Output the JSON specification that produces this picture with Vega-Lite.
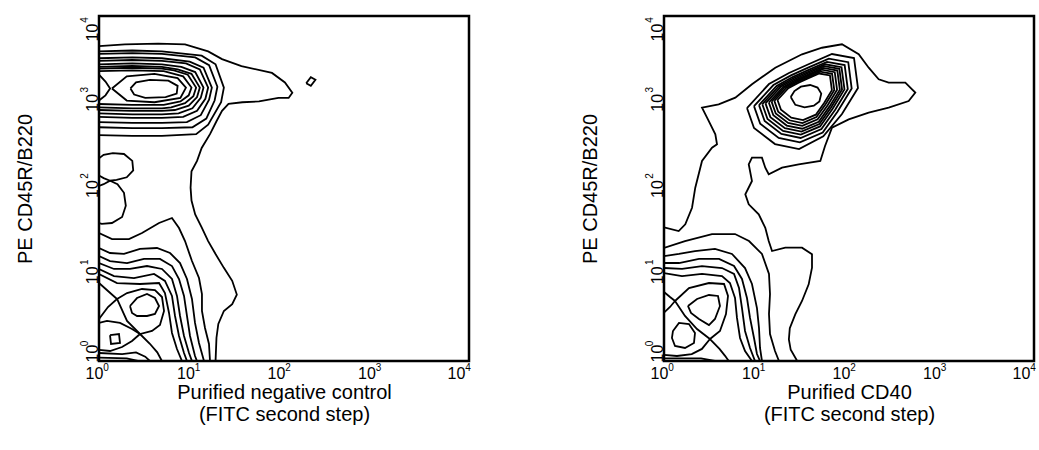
{
"$schema": "https://vega.github.io/schema/vega-lite/v6.json",
"background": "white",
"padding": {"left": 13, "top": 14, "right": 5, "bottom": 5},
"config": {
"font": "Liberation Sans",
"view": {"stroke": "black", "strokeWidth": 2.5},
"axis": {"grid": false, "domain": false, "ticks": false, "labelFont": "Liberation Sans", "labelColor": "black", "titleFont": "Liberation Sans", "titleFontSize": 20, "titleFontWeight": "normal", "titleColor": "black"},
"concat": {"spacing": 106}
},
"datasets": {
"L": [
{"c":"a","x":0,"y":3.65},{"c":"a","x":0.28,"y":3.67},{"c":"a","x":0.64,"y":3.68},{"c":"a","x":0.93,"y":3.67},{"c":"a","x":1.18,"y":3.59},{"c":"a","x":1.33,"y":3.5},{"c":"a","x":1.54,"y":3.42},{"c":"a","x":1.87,"y":3.34},{"c":"a","x":2.01,"y":3.23},{"c":"a","x":2.09,"y":3.11},{"c":"a","x":2.05,"y":3.05},{"c":"a","x":1.94,"y":3.05},{"c":"a","x":1.73,"y":3.01},{"c":"a","x":1.55,"y":3.0},{"c":"a","x":1.4,"y":2.98},{"c":"a","x":1.33,"y":2.9},{"c":"a","x":1.27,"y":2.78},{"c":"a","x":1.2,"y":2.63},{"c":"a","x":1.11,"y":2.47},{"c":"a","x":1.06,"y":2.32},{"c":"a","x":1.0,"y":2.2},{"c":"a","x":0.99,"y":2.01},{"c":"a","x":1.0,"y":1.86},{"c":"a","x":1.04,"y":1.7},{"c":"a","x":1.11,"y":1.55},{"c":"a","x":1.18,"y":1.39},{"c":"a","x":1.26,"y":1.24},{"c":"a","x":1.35,"y":1.08},{"c":"a","x":1.44,"y":0.93},{"c":"a","x":1.49,"y":0.77},{"c":"a","x":1.44,"y":0.66},{"c":"a","x":1.35,"y":0.58},{"c":"a","x":1.29,"y":0.43},{"c":"a","x":1.27,"y":0.27},{"c":"a","x":1.26,"y":0},
{"c":"b","x":2.24,"y":3.22},{"c":"b","x":2.29,"y":3.29},{"c":"b","x":2.34,"y":3.26},{"c":"b","x":2.29,"y":3.19},{"c":"b","x":2.24,"y":3.22},
{"c":"c0","x":0,"y":3.59},{"c":"c0","x":0.36,"y":3.6},{"c":"c0","x":0.68,"y":3.59},{"c":"c0","x":1.11,"y":3.54},{"c":"c0","x":1.26,"y":3.44},{"c":"c0","x":1.35,"y":3.17},{"c":"c0","x":1.32,"y":3.0},{"c":"c0","x":1.18,"y":2.74},{"c":"c0","x":1.05,"y":2.63},{"c":"c0","x":0.68,"y":2.61},{"c":"c0","x":0.36,"y":2.61},{"c":"c0","x":0,"y":2.62},
{"c":"c1","x":0,"y":3.56},{"c":"c1","x":0.36,"y":3.57},{"c":"c1","x":0.68,"y":3.56},{"c":"c1","x":1.04,"y":3.52},{"c":"c1","x":1.19,"y":3.43},{"c":"c1","x":1.28,"y":3.18},{"c":"c1","x":1.25,"y":3.02},{"c":"c1","x":1.16,"y":2.81},{"c":"c1","x":1.01,"y":2.71},{"c":"c1","x":0.68,"y":2.7},{"c":"c1","x":0.36,"y":2.7},{"c":"c1","x":0,"y":2.71},
{"c":"c2","x":0,"y":3.51},{"c":"c2","x":0.36,"y":3.52},{"c":"c2","x":0.68,"y":3.51},{"c":"c2","x":0.98,"y":3.47},{"c":"c2","x":1.13,"y":3.4},{"c":"c2","x":1.22,"y":3.17},{"c":"c2","x":1.19,"y":3.03},{"c":"c2","x":1.1,"y":2.85},{"c":"c2","x":0.95,"y":2.77},{"c":"c2","x":0.68,"y":2.76},{"c":"c2","x":0.36,"y":2.76},{"c":"c2","x":0,"y":2.77},
{"c":"c3","x":0,"y":3.48},{"c":"c3","x":0.36,"y":3.49},{"c":"c3","x":0.68,"y":3.48},{"c":"c3","x":0.94,"y":3.45},{"c":"c3","x":1.09,"y":3.38},{"c":"c3","x":1.18,"y":3.17},{"c":"c3","x":1.15,"y":3.04},{"c":"c3","x":1.06,"y":2.9},{"c":"c3","x":0.91,"y":2.83},{"c":"c3","x":0.68,"y":2.82},{"c":"c3","x":0.36,"y":2.82},{"c":"c3","x":0,"y":2.83},
{"c":"c4","x":0,"y":3.44},{"c":"c4","x":0.36,"y":3.45},{"c":"c4","x":0.68,"y":3.44},{"c":"c4","x":0.89,"y":3.41},{"c":"c4","x":1.04,"y":3.35},{"c":"c4","x":1.13,"y":3.17},{"c":"c4","x":1.1,"y":3.05},{"c":"c4","x":1.01,"y":2.93},{"c":"c4","x":0.86,"y":2.87},{"c":"c4","x":0.68,"y":2.86},{"c":"c4","x":0.36,"y":2.86},{"c":"c4","x":0,"y":2.87},
{"c":"c5","x":0,"y":3.41},{"c":"c5","x":0.36,"y":3.42},{"c":"c5","x":0.68,"y":3.41},{"c":"c5","x":0.85,"y":3.38},{"c":"c5","x":1.0,"y":3.33},{"c":"c5","x":1.09,"y":3.17},{"c":"c5","x":1.06,"y":3.06},{"c":"c5","x":0.97,"y":2.96},{"c":"c5","x":0.82,"y":2.91},{"c":"c5","x":0.68,"y":2.9},{"c":"c5","x":0.36,"y":2.9},{"c":"c5","x":0,"y":2.91},
{"c":"c6","x":0,"y":3.39},{"c":"c6","x":0.36,"y":3.4},{"c":"c6","x":0.68,"y":3.39},{"c":"c6","x":0.81,"y":3.37},{"c":"c6","x":0.96,"y":3.32},{"c":"c6","x":1.05,"y":3.17},{"c":"c6","x":1.02,"y":3.07},{"c":"c6","x":0.93,"y":2.99},{"c":"c6","x":0.78,"y":2.94},{"c":"c6","x":0.68,"y":2.93},{"c":"c6","x":0.36,"y":2.93},{"c":"c6","x":0,"y":2.94},
{"c":"c7","x":0,"y":3.36},{"c":"c7","x":0.36,"y":3.37},{"c":"c7","x":0.7,"y":3.36},{"c":"c7","x":0.91,"y":3.3},{"c":"c7","x":1.0,"y":3.17},{"c":"c7","x":0.97,"y":3.08},{"c":"c7","x":0.88,"y":3.01},{"c":"c7","x":0.7,"y":2.97},{"c":"c7","x":0.36,"y":2.97},{"c":"c7","x":0,"y":2.98},
{"c":"c8","x":0.14,"y":3.16},{"c":"c8","x":0.3,"y":3.3},{"c":"c8","x":0.6,"y":3.33},{"c":"c8","x":0.85,"y":3.28},{"c":"c8","x":0.94,"y":3.17},{"c":"c8","x":0.88,"y":3.05},{"c":"c8","x":0.6,"y":3.0},{"c":"c8","x":0.3,"y":3.02},{"c":"c8","x":0.14,"y":3.16},
{"c":"c9","x":0.34,"y":3.16},{"c":"c9","x":0.4,"y":3.23},{"c":"c9","x":0.55,"y":3.26},{"c":"c9","x":0.75,"y":3.25},{"c":"c9","x":0.85,"y":3.19},{"c":"c9","x":0.84,"y":3.1},{"c":"c9","x":0.72,"y":3.06},{"c":"c9","x":0.5,"y":3.05},{"c":"c9","x":0.38,"y":3.09},{"c":"c9","x":0.34,"y":3.16},
{"c":"c10","x":0,"y":3.32},{"c":"c10","x":0.07,"y":3.24},{"c":"c10","x":0.12,"y":3.16},{"c":"c10","x":0.07,"y":3.08},{"c":"c10","x":0,"y":3.02},
{"c":"u1","x":0,"y":2.35},{"c":"u1","x":0.05,"y":2.39},{"c":"u1","x":0.15,"y":2.41},{"c":"u1","x":0.27,"y":2.4},{"c":"u1","x":0.36,"y":2.32},{"c":"u1","x":0.37,"y":2.21},{"c":"u1","x":0.3,"y":2.13},{"c":"u1","x":0.19,"y":2.1},{"c":"u1","x":0.12,"y":2.09},{"c":"u1","x":0.05,"y":2.05},{"c":"u1","x":0,"y":2.03},
{"c":"u2","x":0,"y":2.15},{"c":"u2","x":0.05,"y":2.12},{"c":"u2","x":0.12,"y":2.09},{"c":"u2","x":0.2,"y":2.05},{"c":"u2","x":0.27,"y":1.95},{"c":"u2","x":0.29,"y":1.8},{"c":"u2","x":0.25,"y":1.67},{"c":"u2","x":0.14,"y":1.6},{"c":"u2","x":0.03,"y":1.59},{"c":"u2","x":0,"y":1.6},
{"c":"m","x":0,"y":1.484},{"c":"m","x":0.141,"y":1.414},{"c":"m","x":0.324,"y":1.414},{"c":"m","x":0.465,"y":1.484},{"c":"m","x":0.649,"y":1.6},{"c":"m","x":0.789,"y":1.658},{"c":"m","x":0.865,"y":1.542},{"c":"m","x":0.93,"y":1.391},{"c":"m","x":1.005,"y":1.159},{"c":"m","x":1.081,"y":0.962},{"c":"m","x":1.113,"y":0.777},{"c":"m","x":1.113,"y":0.58},{"c":"m","x":1.146,"y":0.383},{"c":"m","x":1.189,"y":0.197},{"c":"m","x":1.2,"y":0},
{"c":"A","x":0,"y":1.31},{"c":"A","x":0.119,"y":1.252},{"c":"A","x":0.27,"y":1.241},{"c":"A","x":0.443,"y":1.299},{"c":"A","x":0.627,"y":1.31},{"c":"A","x":0.768,"y":1.252},{"c":"A","x":0.876,"y":1.136},{"c":"A","x":0.951,"y":0.951},{"c":"A","x":1.005,"y":0.719},{"c":"A","x":1.038,"y":0.441},{"c":"A","x":1.081,"y":0.209},{"c":"A","x":1.135,"y":0},
{"c":"B","x":0,"y":1.217},{"c":"B","x":0.119,"y":1.159},{"c":"B","x":0.303,"y":1.136},{"c":"B","x":0.486,"y":1.183},{"c":"B","x":0.659,"y":1.183},{"c":"B","x":0.789,"y":1.101},{"c":"B","x":0.865,"y":0.951},{"c":"B","x":0.919,"y":0.754},{"c":"B","x":0.951,"y":0.522},{"c":"B","x":0.984,"y":0.29},{"c":"B","x":1.038,"y":0.058},{"c":"B","x":1.059,"y":0},
{"c":"C","x":0,"y":1.136},{"c":"C","x":0.162,"y":1.067},{"c":"C","x":0.335,"y":1.067},{"c":"C","x":0.519,"y":1.101},{"c":"C","x":0.681,"y":1.067},{"c":"C","x":0.789,"y":0.951},{"c":"C","x":0.843,"y":0.754},{"c":"C","x":0.876,"y":0.522},{"c":"C","x":0.919,"y":0.29},{"c":"C","x":0.973,"y":0.093},{"c":"C","x":1.005,"y":0},
{"c":"D","x":0,"y":1.067},{"c":"D","x":0.162,"y":0.985},{"c":"D","x":0.378,"y":0.962},{"c":"D","x":0.595,"y":1.009},{"c":"D","x":0.713,"y":0.928},{"c":"D","x":0.789,"y":0.754},{"c":"D","x":0.822,"y":0.522},{"c":"D","x":0.865,"y":0.29},{"c":"D","x":0.919,"y":0.093},{"c":"D","x":0.951,"y":0},
{"c":"E","x":0,"y":1.009},{"c":"E","x":0.195,"y":0.904},{"c":"E","x":0.443,"y":0.893},{"c":"E","x":0.649,"y":0.904},{"c":"E","x":0.713,"y":0.788},{"c":"E","x":0.757,"y":0.557},{"c":"E","x":0.789,"y":0.325},{"c":"E","x":0.843,"y":0.139},{"c":"E","x":0.897,"y":0},
{"c":"Fb","x":0.195,"y":0.719},{"c":"Fb","x":0.303,"y":0.788},{"c":"Fb","x":0.465,"y":0.835},{"c":"Fb","x":0.605,"y":0.823},{"c":"Fb","x":0.681,"y":0.742},{"c":"Fb","x":0.703,"y":0.58},{"c":"Fb","x":0.659,"y":0.417},{"c":"Fb","x":0.573,"y":0.348},{"c":"Fb","x":0.443,"y":0.313},{"c":"Fb","x":0.303,"y":0.464},{"c":"Fb","x":0.195,"y":0.719},
{"c":"In","x":0.335,"y":0.638},{"c":"In","x":0.411,"y":0.73},{"c":"In","x":0.519,"y":0.777},{"c":"In","x":0.605,"y":0.73},{"c":"In","x":0.649,"y":0.638},{"c":"In","x":0.605,"y":0.545},{"c":"In","x":0.519,"y":0.522},{"c":"In","x":0.411,"y":0.522},{"c":"In","x":0.357,"y":0.557},{"c":"In","x":0.335,"y":0.638},
{"c":"G","x":0,"y":0.904},{"c":"G","x":0.097,"y":0.812},{"c":"G","x":0.195,"y":0.719},{"c":"G","x":0.097,"y":0.626},{"c":"G","x":0,"y":0.487},
{"c":"Sq","x":0.119,"y":0.301},{"c":"Sq","x":0.216,"y":0.313},{"c":"Sq","x":0.227,"y":0.209},{"c":"Sq","x":0.13,"y":0.197},{"c":"Sq","x":0.119,"y":0.301},
{"c":"Ls","x":0,"y":0.441},{"c":"Ls","x":0.086,"y":0.464},{"c":"Ls","x":0.227,"y":0.441},{"c":"Ls","x":0.357,"y":0.371},{"c":"Ls","x":0.443,"y":0.313},{"c":"Ls","x":0.357,"y":0.232},{"c":"Ls","x":0.249,"y":0.162},{"c":"Ls","x":0.119,"y":0.116},{"c":"Ls","x":0,"y":0.128},
{"c":"X2","x":0.443,"y":0.313},{"c":"X2","x":0.55,"y":0.2},{"c":"X2","x":0.63,"y":0.1},{"c":"X2","x":0.68,"y":0},
{"c":"Bt1","x":0,"y":0.093},{"c":"Bt1","x":0.25,"y":0.08},{"c":"Bt1","x":0.4,"y":0.1},{"c":"Bt1","x":0.5,"y":0.05},{"c":"Bt1","x":0.55,"y":0},
{"c":"Bt2","x":0,"y":0.04},{"c":"Bt2","x":0.3,"y":0.03},{"c":"Bt2","x":0.42,"y":0}
],
"R": [
{"c":"a","x":0,"y":1.55},{"c":"a","x":0.159,"y":1.507},{"c":"a","x":0.23,"y":1.585},{"c":"a","x":0.303,"y":1.777},{"c":"a","x":0.338,"y":2.009},{"c":"a","x":0.411,"y":2.319},{"c":"a","x":0.519,"y":2.473},{"c":"a","x":0.573,"y":2.512},{"c":"a","x":0.555,"y":2.628},{"c":"a","x":0.483,"y":2.783},{"c":"a","x":0.411,"y":2.937},{"c":"a","x":0.591,"y":2.976},{"c":"a","x":0.771,"y":3.053},{"c":"a","x":0.951,"y":3.208},{"c":"a","x":1.203,"y":3.401},{"c":"a","x":1.492,"y":3.556},{"c":"a","x":1.708,"y":3.632},{"c":"a","x":1.924,"y":3.672},{"c":"a","x":2.105,"y":3.556},{"c":"a","x":2.213,"y":3.401},{"c":"a","x":2.321,"y":3.266},{"c":"a","x":2.429,"y":3.227},{"c":"a","x":2.609,"y":3.227},{"c":"a","x":2.717,"y":3.111},{"c":"a","x":2.645,"y":3.014},{"c":"a","x":2.429,"y":2.937},{"c":"a","x":2.213,"y":2.879},{"c":"a","x":1.997,"y":2.802},{"c":"a","x":1.816,"y":2.705},{"c":"a","x":1.74,"y":2.49},{"c":"a","x":1.69,"y":2.32},{"c":"a","x":1.456,"y":2.281},{"c":"a","x":1.276,"y":2.241},{"c":"a","x":1.132,"y":2.165},{"c":"a","x":1.095,"y":2.241},{"c":"a","x":1.059,"y":2.357},{"c":"a","x":0.951,"y":2.357},{"c":"a","x":0.916,"y":2.281},{"c":"a","x":0.951,"y":2.087},{"c":"a","x":0.879,"y":1.933},{"c":"a","x":0.916,"y":1.817},{"c":"a","x":1.024,"y":1.701},{"c":"a","x":1.095,"y":1.545},{"c":"a","x":1.132,"y":1.391},{"c":"a","x":1.168,"y":1.275},{"c":"a","x":1.311,"y":1.314},{"c":"a","x":1.492,"y":1.314},{"c":"a","x":1.6,"y":1.237},{"c":"a","x":1.6,"y":1.082},{"c":"a","x":1.564,"y":0.889},{"c":"a","x":1.492,"y":0.696},{"c":"a","x":1.419,"y":0.541},{"c":"a","x":1.36,"y":0.38},{"c":"a","x":1.35,"y":0.25},{"c":"a","x":1.37,"y":0.13},{"c":"a","x":1.44,"y":0},
{"c":"r1","x":0.897,"y":2.933},{"c":"r1","x":1.135,"y":3.211},{"c":"r1","x":1.351,"y":3.339},{"c":"r1","x":1.568,"y":3.443},{"c":"r1","x":1.816,"y":3.559},{"c":"r1","x":2.054,"y":3.513},{"c":"r1","x":2.097,"y":3.165},{"c":"r1","x":1.924,"y":2.863},{"c":"r1","x":1.722,"y":2.604},{"c":"r1","x":1.46,"y":2.457},{"c":"r1","x":1.2,"y":2.515},{"c":"r1","x":0.973,"y":2.701},{"c":"r1","x":0.897,"y":2.933},
{"c":"r2","x":0.973,"y":2.955},{"c":"r2","x":1.183,"y":3.199},{"c":"r2","x":1.373,"y":3.312},{"c":"r2","x":1.564,"y":3.404},{"c":"r2","x":1.782,"y":3.506},{"c":"r2","x":1.992,"y":3.465},{"c":"r2","x":2.029,"y":3.159},{"c":"r2","x":1.877,"y":2.893},{"c":"r2","x":1.716,"y":2.648},{"c":"r2","x":1.469,"y":2.536},{"c":"r2","x":1.24,"y":2.587},{"c":"r2","x":1.04,"y":2.751},{"c":"r2","x":0.973,"y":2.955},
{"c":"r3","x":1.027,"y":2.967},{"c":"r3","x":1.217,"y":3.19},{"c":"r3","x":1.39,"y":3.292},{"c":"r3","x":1.564,"y":3.375},{"c":"r3","x":1.762,"y":3.468},{"c":"r3","x":1.953,"y":3.431},{"c":"r3","x":1.987,"y":3.153},{"c":"r3","x":1.849,"y":2.911},{"c":"r3","x":1.702,"y":2.689},{"c":"r3","x":1.477,"y":2.586},{"c":"r3","x":1.269,"y":2.633},{"c":"r3","x":1.088,"y":2.782},{"c":"r3","x":1.027,"y":2.967},
{"c":"r4","x":1.063,"y":2.977},{"c":"r4","x":1.239,"y":3.183},{"c":"r4","x":1.399,"y":3.278},{"c":"r4","x":1.559,"y":3.354},{"c":"r4","x":1.743,"y":3.44},{"c":"r4","x":1.919,"y":3.406},{"c":"r4","x":1.951,"y":3.149},{"c":"r4","x":1.823,"y":2.925},{"c":"r4","x":1.687,"y":2.72},{"c":"r4","x":1.479,"y":2.625},{"c":"r4","x":1.287,"y":2.668},{"c":"r4","x":1.119,"y":2.805},{"c":"r4","x":1.063,"y":2.977},
{"c":"r5","x":1.097,"y":2.987},{"c":"r5","x":1.262,"y":3.179},{"c":"r5","x":1.411,"y":3.267},{"c":"r5","x":1.56,"y":3.339},{"c":"r5","x":1.732,"y":3.419},{"c":"r5","x":1.896,"y":3.387},{"c":"r5","x":1.925,"y":3.147},{"c":"r5","x":1.806,"y":2.939},{"c":"r5","x":1.68,"y":2.747},{"c":"r5","x":1.486,"y":2.659},{"c":"r5","x":1.307,"y":2.699},{"c":"r5","x":1.15,"y":2.827},{"c":"r5","x":1.097,"y":2.987},
{"c":"r6","x":1.133,"y":2.997},{"c":"r6","x":1.286,"y":3.175},{"c":"r6","x":1.424,"y":3.257},{"c":"r6","x":1.563,"y":3.324},{"c":"r6","x":1.721,"y":3.398},{"c":"r6","x":1.874,"y":3.368},{"c":"r6","x":1.901,"y":3.146},{"c":"r6","x":1.79,"y":2.952},{"c":"r6","x":1.673,"y":2.774},{"c":"r6","x":1.494,"y":2.693},{"c":"r6","x":1.327,"y":2.73},{"c":"r6","x":1.182,"y":2.849},{"c":"r6","x":1.133,"y":2.997},
{"c":"r7","x":1.163,"y":3.007},{"c":"r7","x":1.303,"y":3.171},{"c":"r7","x":1.431,"y":3.247},{"c":"r7","x":1.559,"y":3.308},{"c":"r7","x":1.705,"y":3.377},{"c":"r7","x":1.846,"y":3.349},{"c":"r7","x":1.871,"y":3.144},{"c":"r7","x":1.769,"y":2.966},{"c":"r7","x":1.661,"y":2.802},{"c":"r7","x":1.495,"y":2.726},{"c":"r7","x":1.342,"y":2.761},{"c":"r7","x":1.208,"y":2.87},{"c":"r7","x":1.163,"y":3.007},
{"c":"r8","x":1.193,"y":3.016},{"c":"r8","x":1.321,"y":3.166},{"c":"r8","x":1.438,"y":3.236},{"c":"r8","x":1.555,"y":3.292},{"c":"r8","x":1.689,"y":3.354},{"c":"r8","x":1.817,"y":3.329},{"c":"r8","x":1.841,"y":3.142},{"c":"r8","x":1.747,"y":2.978},{"c":"r8","x":1.648,"y":2.828},{"c":"r8","x":1.497,"y":2.759},{"c":"r8","x":1.356,"y":2.791},{"c":"r8","x":1.234,"y":2.891},{"c":"r8","x":1.193,"y":3.016},
{"c":"r9","x":1.227,"y":3.026},{"c":"r9","x":1.344,"y":3.163},{"c":"r9","x":1.45,"y":3.225},{"c":"r9","x":1.556,"y":3.276},{"c":"r9","x":1.678,"y":3.333},{"c":"r9","x":1.794,"y":3.311},{"c":"r9","x":1.815,"y":3.14},{"c":"r9","x":1.731,"y":2.992},{"c":"r9","x":1.641,"y":2.856},{"c":"r9","x":1.503,"y":2.793},{"c":"r9","x":1.376,"y":2.821},{"c":"r9","x":1.265,"y":2.913},{"c":"r9","x":1.227,"y":3.026},
{"c":"r0","x":1.37,"y":3.06},{"c":"r0","x":1.41,"y":3.13},{"c":"r0","x":1.48,"y":3.18},{"c":"r0","x":1.58,"y":3.2},{"c":"r0","x":1.66,"y":3.17},{"c":"r0","x":1.7,"y":3.1},{"c":"r0","x":1.68,"y":3.01},{"c":"r0","x":1.62,"y":2.96},{"c":"r0","x":1.52,"y":2.94},{"c":"r0","x":1.42,"y":2.97},{"c":"r0","x":1.37,"y":3.06},
{"c":"m","x":0,"y":1.31},{"c":"m","x":0.227,"y":1.391},{"c":"m","x":0.519,"y":1.472},{"c":"m","x":0.768,"y":1.472},{"c":"m","x":0.919,"y":1.391},{"c":"m","x":1.059,"y":1.241},{"c":"m","x":1.135,"y":1.009},{"c":"m","x":1.146,"y":0.777},{"c":"m","x":1.135,"y":0.545},{"c":"m","x":1.146,"y":0.313},{"c":"m","x":1.2,"y":0.116},{"c":"m","x":1.243,"y":0},
{"c":"A","x":0,"y":1.217},{"c":"A","x":0.162,"y":1.241},{"c":"A","x":0.335,"y":1.275},{"c":"A","x":0.551,"y":1.299},{"c":"A","x":0.735,"y":1.241},{"c":"A","x":0.876,"y":1.078},{"c":"A","x":0.951,"y":0.893},{"c":"A","x":1.005,"y":0.614},{"c":"A","x":1.027,"y":0.383},{"c":"A","x":1.038,"y":0.151},{"c":"A","x":1.059,"y":0},
{"c":"B","x":0,"y":1.136},{"c":"B","x":0.162,"y":1.136},{"c":"B","x":0.378,"y":1.183},{"c":"B","x":0.595,"y":1.183},{"c":"B","x":0.757,"y":1.101},{"c":"B","x":0.843,"y":0.951},{"c":"B","x":0.897,"y":0.73},{"c":"B","x":0.93,"y":0.499},{"c":"B","x":0.973,"y":0.267},{"c":"B","x":1.005,"y":0.081},{"c":"B","x":1.038,"y":0},
{"c":"C","x":0,"y":1.078},{"c":"C","x":0.195,"y":1.067},{"c":"C","x":0.411,"y":1.101},{"c":"C","x":0.627,"y":1.078},{"c":"C","x":0.757,"y":1.009},{"c":"C","x":0.811,"y":0.846},{"c":"C","x":0.843,"y":0.614},{"c":"C","x":0.876,"y":0.348},{"c":"C","x":0.93,"y":0.151},{"c":"C","x":0.984,"y":0},
{"c":"D","x":0,"y":1.02},{"c":"D","x":0.195,"y":0.985},{"c":"D","x":0.411,"y":1.009},{"c":"D","x":0.627,"y":0.985},{"c":"D","x":0.713,"y":0.904},{"c":"D","x":0.768,"y":0.73},{"c":"D","x":0.789,"y":0.499},{"c":"D","x":0.822,"y":0.267},{"c":"D","x":0.876,"y":0.116},{"c":"D","x":0.951,"y":0},
{"c":"E","x":0.119,"y":0.696},{"c":"E","x":0.27,"y":0.846},{"c":"E","x":0.486,"y":0.904},{"c":"E","x":0.649,"y":0.893},{"c":"E","x":0.692,"y":0.754},{"c":"E","x":0.67,"y":0.545},{"c":"E","x":0.605,"y":0.348},{"c":"E","x":0.497,"y":0.255},{"c":"E","x":0.357,"y":0.371},{"c":"E","x":0.227,"y":0.522},{"c":"E","x":0.119,"y":0.696},
{"c":"T","x":0.259,"y":0.638},{"c":"T","x":0.357,"y":0.719},{"c":"T","x":0.486,"y":0.765},{"c":"T","x":0.584,"y":0.754},{"c":"T","x":0.605,"y":0.638},{"c":"T","x":0.551,"y":0.487},{"c":"T","x":0.486,"y":0.417},{"c":"T","x":0.378,"y":0.487},{"c":"T","x":0.292,"y":0.557},{"c":"T","x":0.259,"y":0.638},
{"c":"G","x":0,"y":0.8},{"c":"G","x":0.065,"y":0.742},{"c":"G","x":0.119,"y":0.696},{"c":"G","x":0.065,"y":0.626},{"c":"G","x":0,"y":0.56},
{"c":"S","x":0.097,"y":0.348},{"c":"S","x":0.162,"y":0.441},{"c":"S","x":0.27,"y":0.429},{"c":"S","x":0.335,"y":0.325},{"c":"S","x":0.324,"y":0.209},{"c":"S","x":0.227,"y":0.151},{"c":"S","x":0.119,"y":0.174},{"c":"S","x":0.086,"y":0.267},{"c":"S","x":0.097,"y":0.348},
{"c":"H1","x":0.497,"y":0.255},{"c":"H1","x":0.6,"y":0.14},{"c":"H1","x":0.66,"y":0.06},{"c":"H1","x":0.7,"y":0},
{"c":"H2","x":0.497,"y":0.255},{"c":"H2","x":0.41,"y":0.14},{"c":"H2","x":0.3,"y":0.08},{"c":"H2","x":0.14,"y":0.058},{"c":"H2","x":0,"y":0.07},
{"c":"K","x":0,"y":0.03},{"c":"K","x":0.4,"y":0.03},{"c":"K","x":0.55,"y":0}
]
},
"hconcat": [
{
"width": 370, "height": 345,
"layer": [
{
"data": {"name": "L"},
"mark": {"type": "line", "color": "black", "strokeWidth": 1.8, "clip": true},
"encoding": {
"x": {"field": "x", "type": "quantitative", "scale": {"domain": [0, 4], "nice": false, "zero": false},
"axis": {"orient": "bottom", "values": [0, 1, 2, 3, 4], "labelExpr": "'10'", "labelFontSize": 16, "labelBaseline": "top", "labelAlign": "center", "labelPadding": 4, "labelOffset": {"expr": "[-5,-6,-8,-10,-13][datum.value]"}, "minExtent": 18, "maxExtent": 18, "title": ["Purified negative control", "(FITC second step)"], "titlePadding": 3, "titleLineHeight": 22}},
"y": {"field": "y", "type": "quantitative", "scale": {"domain": [0, 4], "nice": false, "zero": false},
"axis": {"orient": "left", "values": [0, 1, 2, 3, 4], "labelExpr": "'10'", "labelFontSize": 16, "labelAngle": -90, "labelAlign": "center", "labelBaseline": "alphabetic", "labelPadding": 2, "labelOffset": {"expr": "datum.value == 0 ? -8 : datum.value == 4 ? 16 : 0"}, "minExtent": 20, "maxExtent": 20, "title": "PE CD45R/B220", "titlePadding": 44}},
"detail": {"field": "c", "type": "nominal"},
"order": {"value": null}
}
},
{
"data": {"values": []},
"mark": {"type": "point", "opacity": 0},
"encoding": {
"x": {"field": "x", "type": "quantitative", "scale": {"domain": [0, 4], "nice": false, "zero": false},
"axis": {"orient": "bottom", "values": [0, 1, 2, 3, 4], "labelExpr": "'' + datum.value", "labelFontSize": 10, "labelBaseline": "top", "labelAlign": "center", "labelPadding": 1, "labelOffset": {"expr": "[6.5,5.5,3.5,1.5,-1.5][datum.value]"}, "title": null}},
"y": {"field": "y", "type": "quantitative", "scale": {"domain": [0, 4], "nice": false, "zero": false},
"axis": {"orient": "left", "values": [0, 1, 2, 3, 4], "labelExpr": "'' + datum.value", "labelFontSize": 10, "labelAngle": -90, "labelAlign": "center", "labelBaseline": "alphabetic", "labelPadding": 12, "labelOffset": {"expr": "datum.value == 0 ? -18 : datum.value == 4 ? 3.5 : -13"}, "title": null}}
}
}
],
"resolve": {"axis": {"x": "independent", "y": "independent"}}
},
{
"width": 370, "height": 345,
"layer": [
{
"data": {"name": "R"},
"mark": {"type": "line", "color": "black", "strokeWidth": 1.8, "clip": true},
"encoding": {
"x": {"field": "x", "type": "quantitative", "scale": {"domain": [0, 4], "nice": false, "zero": false},
"axis": {"orient": "bottom", "values": [0, 1, 2, 3, 4], "labelExpr": "'10'", "labelFontSize": 16, "labelBaseline": "top", "labelAlign": "center", "labelPadding": 4, "labelOffset": {"expr": "[-5,-6,-8,-10,-13][datum.value]"}, "minExtent": 18, "maxExtent": 18, "title": ["Purified CD40", "(FITC second step)"], "titlePadding": 3, "titleLineHeight": 22}},
"y": {"field": "y", "type": "quantitative", "scale": {"domain": [0, 4], "nice": false, "zero": false},
"axis": {"orient": "left", "values": [0, 1, 2, 3, 4], "labelExpr": "'10'", "labelFontSize": 16, "labelAngle": -90, "labelAlign": "center", "labelBaseline": "alphabetic", "labelPadding": 2, "labelOffset": {"expr": "datum.value == 0 ? -8 : datum.value == 4 ? 16 : 0"}, "minExtent": 20, "maxExtent": 20, "title": "PE CD45R/B220", "titlePadding": 44}},
"detail": {"field": "c", "type": "nominal"},
"order": {"value": null}
}
},
{
"data": {"values": []},
"mark": {"type": "point", "opacity": 0},
"encoding": {
"x": {"field": "x", "type": "quantitative", "scale": {"domain": [0, 4], "nice": false, "zero": false},
"axis": {"orient": "bottom", "values": [0, 1, 2, 3, 4], "labelExpr": "'' + datum.value", "labelFontSize": 10, "labelBaseline": "top", "labelAlign": "center", "labelPadding": 1, "labelOffset": {"expr": "[6.5,5.5,3.5,1.5,-1.5][datum.value]"}, "title": null}},
"y": {"field": "y", "type": "quantitative", "scale": {"domain": [0, 4], "nice": false, "zero": false},
"axis": {"orient": "left", "values": [0, 1, 2, 3, 4], "labelExpr": "'' + datum.value", "labelFontSize": 10, "labelAngle": -90, "labelAlign": "center", "labelBaseline": "alphabetic", "labelPadding": 12, "labelOffset": {"expr": "datum.value == 0 ? -18 : datum.value == 4 ? 3.5 : -13"}, "title": null}}
}
}
],
"resolve": {"axis": {"x": "independent", "y": "independent"}}
}
]
}
